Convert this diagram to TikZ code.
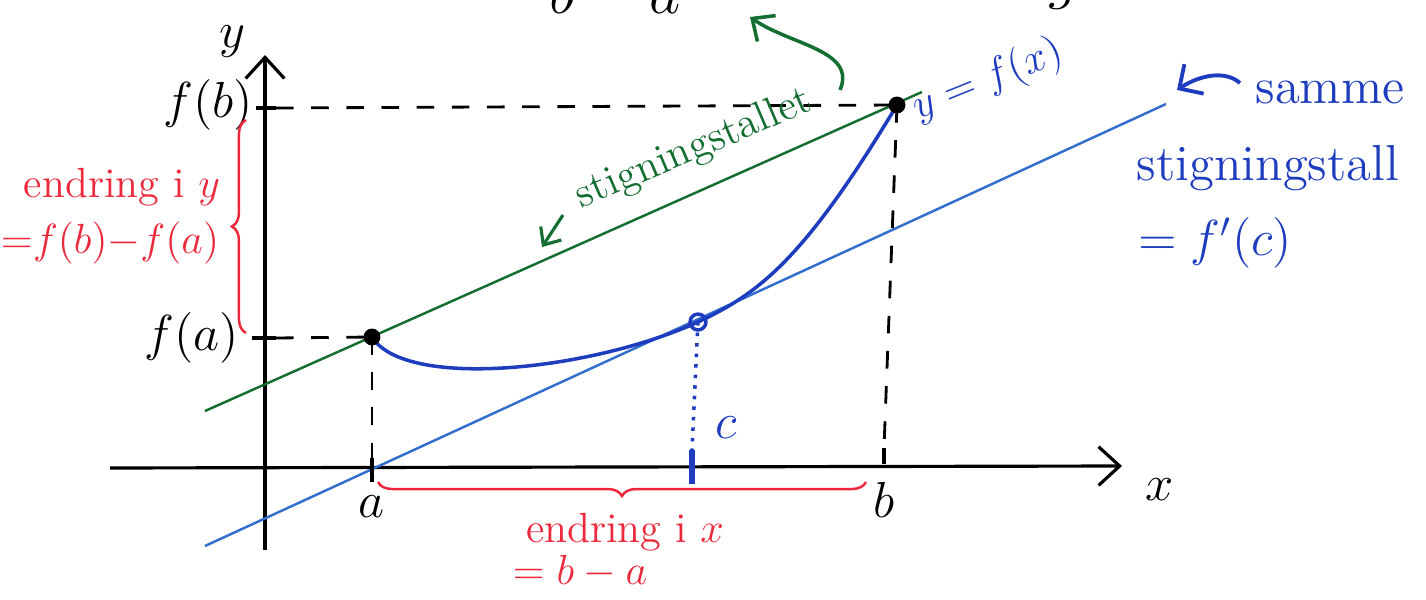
\documentclass[tikz,border=0pt]{standalone}
\usetikzlibrary{arrows.meta,decorations.pathreplacing}
\definecolor{secgreen}{RGB}{20,110,50}
\definecolor{penblue}{RGB}{30,60,190}
\definecolor{tanblue}{RGB}{50,110,205}
\definecolor{penred}{RGB}{235,40,60}
\begin{document}
\begin{tikzpicture}[
    x=0.01cm, y=-0.01cm,
    every node/.style={inner sep=1pt},
    dot/.style={circle, fill=black, inner sep=1.7pt},
    axis/.style={line width=0.9pt, -{Straight Barb[length=6pt,width=11pt]}},
    guide/.style={line width=0.8pt, dash pattern=on 5pt off 5pt},
    tick/.style={line width=0.9pt},
    lab/.style={font=\Large},
    brace/.style={penred, line width=0.7pt, decorate, decoration={brace, amplitude=4pt}},
    note/.style={font=\large}
]
\useasboundingbox (0,0) rectangle (1426,600);

\coordinate (pA) at (372,337);
\coordinate (pB) at (897,105);
\coordinate (pC) at (698,322);

\coordinate (xl) at (110,468);
\coordinate (xr) at (1122,466);
\coordinate (yb) at (265,550);
\coordinate (yt) at (265,55);
\draw[axis] (xl) -- (xr);
\draw[axis] (yb) -- (yt);

\coordinate (s0) at (205,411);
\coordinate (s1) at (922,92);
\coordinate (t0) at (205,546);
\coordinate (t1) at (1166,104);
\draw[secgreen, line width=0.7pt] (s0) -- (s1);
\draw[tanblue, line width=0.7pt] (t0) -- (t1);

\draw[penblue, line width=1pt] (pA) .. controls (405,390) and (590,371) .. (pC)
    .. controls (760,293) and (805,258) .. (pB);

\coordinate (fa0) at (252,338);
\coordinate (fa1) at (276,338);
\coordinate (fb0) at (256,108);
\coordinate (fb1) at (276,108);
\coordinate (ta0) at (372,458);
\coordinate (ta1) at (372,482);
\coordinate (tb0) at (884,448);
\coordinate (tb1) at (884,464);
\coordinate (tc0) at (692,450);
\coordinate (tc1) at (692,484);
\draw[tick] (fa0) -- (fa1);
\draw[tick] (fb0) -- (fb1);
\draw[tick] (ta0) -- (ta1);
\draw[tick] (tb0) -- (tb1);
\draw[penblue, line width=1.6pt] (tc0) -- (tc1);
\draw[guide] (fa1) -- (pA);
\draw[guide] (fb1) -- (pB);
\draw[guide] (pA) -- (ta0);
\draw[guide] (pB) -- (tb0);
\draw[penblue, dotted, line width=1pt] (pC) -- (tc0);

\node[dot] (A) at (pA) {};
\node[dot] (B) at (pB) {};
\node[circle, draw=penblue, line width=1pt, inner sep=1.6pt] (C) at (pC) {};

\node[lab] (ylab) at (232,42) {$y$};
\node[lab] (xlab) at (1160,490) {$x$};
\node[lab] (falab) at (192,338) {$f(a)$};
\node[lab] (fblab) at (208,105) {$f(b)$};
\node[lab] (alab) at (372,507) {$a$};
\node[lab] (blab) at (884,500) {$b$};
\node[lab, penblue] (clab) at (726,428) {$c$};

\coordinate (by0) at (246,333);
\coordinate (by1) at (246,120);
\coordinate (bx0) at (866,482);
\coordinate (bx1) at (378,482);
\draw[brace] (by0) -- (by1);
\draw[brace] (bx0) -- (bx1);
\node[note, penred] (dy1) at (122,187) {endring i $y$};
\node[note, penred] (dy2) at (110,243) {${=}f(b){-}f(a)$};
\node[note, penred] (dx1) at (625,532) {endring i $x$};
\node[note, penred] (dx2) at (580,572) {$=b-a$};

\node[secgreen, font=\large, rotate=23, anchor=base west] (slope) at (578,210) {stigningstallet};
\coordinate (ga0) at (563,215);
\coordinate (ga1) at (542,247);
\draw[secgreen, line width=0.9pt, -{Straight Barb[length=4pt,width=7pt]}] (ga0) -- (ga1);
\coordinate (gc0) at (840,90);
\coordinate (gc1) at (750,17);
\draw[secgreen, line width=1pt, -{Straight Barb[length=5pt,width=9pt]}] (gc0) .. controls (857,50) and (790,45) .. (gc1);

\node[penblue, font=\large, rotate=22] (fx) at (988,80) {$y=f(x)$};
\node[note, font=\Large, penblue] (same1) at (1330,92) {samme};
\node[note, font=\Large, penblue] (same2) at (1268,168) {stigningstall};
\node[note, font=\Large, penblue] (same3) at (1215,243) {$=f'(c)$};
\coordinate (ba0) at (1240,83);
\coordinate (ba1) at (1177,90);
\draw[penblue, line width=1.1pt, -{Straight Barb[length=5pt,width=10pt]}] (ba0) .. controls (1225,70) and (1200,75) .. (ba1);

\node[font=\LARGE, anchor=base] (cut1) at (615,14) {$b-a$};
\node[font=\LARGE, anchor=base] (cut2) at (1064,-2) {$g$};

\end{tikzpicture}
\end{document}
